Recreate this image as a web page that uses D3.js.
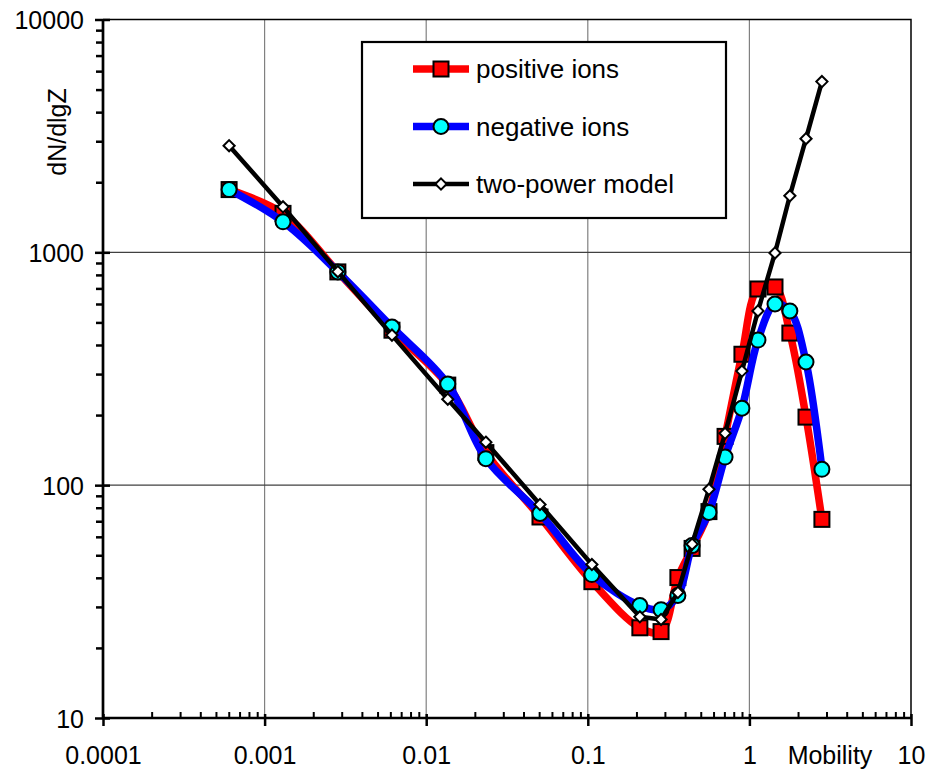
<!DOCTYPE html>
<html>
<head>
<meta charset="utf-8">
<script src="https://cdn.jsdelivr.net/npm/d3@7/dist/d3.min.js"></script>
<style>
  body { margin: 0; background: #fff; }
  svg text { font-family: "Liberation Sans", Arial, sans-serif; fill: #000; }
</style>
</head>
<body>
<div id="chart"></div>
<script>
// values (log-log)
var mobility = [0.000603, 0.00130, 0.00284, 0.00614, 0.0136, 0.0234, 0.0506, 0.106,
                0.210, 0.284, 0.361, 0.442, 0.562, 0.707, 0.899, 1.13, 1.44, 1.78, 2.24, 2.81];
var positiveIons = [1860, 1470, 824, 463, 269, 138, 73, 38.5, 24.4, 23.5,
                    40.1, 53.5, 77, 162, 365, 696, 710, 450, 196, 71.3];
var negativeIons = [1860, 1352, 824, 478, 272, 130, 75.6, 41.3, 30.4, 29.2,
                    33.6, 55, 76.4, 132, 214, 420, 600, 560, 338, 117];
var twoPowerModel = [2870, 1568, 826, 441, 234, 153, 82.6, 45.6, 27.2, 26.5,
                     34.6, 55.8, 96, 167, 309, 560, 994, 1749, 3077, 5412];

var xTicks = [0.0001, 0.001, 0.01, 0.1, 1, 10];
var xTickLabels = ["0.0001", "0.001", "0.01", "0.1", "1", "10"];
var yTicks = [10, 100, 1000, 10000];
var yTickLabels = ["10", "100", "1000", "10000"];
var seriesNames = ["positive ions", "negative ions", "two-power model"];

var width = 932, height = 773;

var svg = d3.select("#chart").append("svg")
  .attr("width", width)
  .attr("height", height);

var x = d3.scaleLog().domain([0.0001, 10]).range([103, 911]);
var y = d3.scaleLog().domain([10, 10000]).range([718, 19.5]);

// minor ticks 2..9 inside each decade
var minorX = [], minorY = [];
xTicks.slice(0, -1).forEach(function(d) {
  for (var k = 2; k <= 9; k++) minorX.push(d * k);
});
yTicks.slice(0, -1).forEach(function(d) {
  for (var k = 2; k <= 9; k++) minorY.push(d * k);
});

// grid
svg.append("g").selectAll("line")
  .data(xTicks.slice(1, -1))
  .enter().append("line")
    .attr("x1", function(d) { return x(d); })
    .attr("x2", function(d) { return x(d); })
    .attr("y1", y(10000))
    .attr("y2", y(10))
    .attr("stroke", "#808080")
    .attr("stroke-width", 1.2);

svg.append("g").selectAll("line")
  .data(yTicks.slice(1, -1))
  .enter().append("line")
    .attr("x1", x(0.0001))
    .attr("x2", x(10))
    .attr("y1", function(d) { return y(d); })
    .attr("y2", function(d) { return y(d); })
    .attr("stroke", "#404040")
    .attr("stroke-width", 1.2);

// plot frame (top + right)
svg.append("path")
  .attr("d", "M" + x(0.0001) + "," + y(10000) + "H" + x(10) + "V" + y(10))
  .attr("fill", "none")
  .attr("stroke", "#000")
  .attr("stroke-width", 1.5);

// x axis
var xMinorAxis = svg.append("g")
  .attr("transform", "translate(0," + y(10) + ")")
  .call(d3.axisTop(x).tickValues(minorX).tickSize(6).tickFormat(""));
xMinorAxis.select(".domain").remove();
xMinorAxis.selectAll("line").attr("stroke-width", 2);

var xAxis = svg.append("g")
  .attr("transform", "translate(0," + y(10) + ")")
  .call(d3.axisBottom(x).tickValues(xTicks).tickSizeOuter(0)
    .tickFormat(function(d, i) { return xTickLabels[i]; }));
xAxis.select(".domain").remove();
xAxis.selectAll("line").attr("y1", -4).attr("y2", 8).attr("stroke-width", 2.5);
xAxis.selectAll("text")
  .attr("y", 46).attr("dy", 0)
  .style("font-size", "25px");

svg.append("text")
  .attr("x", 830)
  .attr("y", 764)
  .attr("text-anchor", "middle")
  .style("font-size", "25px")
  .text("Mobility");

// y axis
var yMinorAxis = svg.append("g")
  .attr("transform", "translate(" + x(0.0001) + ",0)")
  .call(d3.axisLeft(y).tickValues(minorY).tickSize(7).tickFormat(""));
yMinorAxis.select(".domain").remove();
yMinorAxis.selectAll("line").attr("stroke-width", 2.5);

var yAxis = svg.append("g")
  .attr("transform", "translate(" + x(0.0001) + ",0)")
  .call(d3.axisLeft(y).tickValues(yTicks).tickSizeOuter(0)
    .tickFormat(function(d, i) { return yTickLabels[i]; }));
yAxis.select(".domain").remove();
yAxis.selectAll("line").attr("x1", 7).attr("x2", -8).attr("stroke-width", 2.5);
yAxis.selectAll("text")
  .attr("x", -19)
  .attr("dy", "0.36em")
  .style("font-size", "25px");

// axis lines
svg.append("path")
  .attr("d", "M" + x(0.0001) + "," + y(10000) + "V" + y(10) + "H" + x(10))
  .attr("fill", "none")
  .attr("stroke", "#000")
  .attr("stroke-width", 2.7);

svg.append("text")
  .attr("transform", "translate(66,132) rotate(-90)")
  .attr("text-anchor", "middle")
  .style("font-size", "25px")
  .text("dN/dlgZ");

// series
var smooth = d3.line()
  .x(function(d) { return x(d[0]); })
  .y(function(d) { return y(d[1]); })
  .curve(d3.curveCatmullRom.alpha(0.5));
var straight = d3.line()
  .x(function(d) { return x(d[0]); })
  .y(function(d) { return y(d[1]); });

var series = [
  { name: seriesNames[0], values: positiveIons, line: "#ff0000", width: 7.5, marker: "square", fill: "#ff0000", gen: smooth },
  { name: seriesNames[1], values: negativeIons, line: "#0000ff", width: 7.5, marker: "circle", fill: "#00ffff", gen: smooth },
  { name: seriesNames[2], values: twoPowerModel, line: "#000000", width: 4.5, marker: "diamond", fill: "#ffffff", gen: straight }
];

function addMarker(g, kind, fill) {
  if (kind === "square") {
    g.append("rect")
      .attr("x", -7.5).attr("y", -7.5)
      .attr("width", 15).attr("height", 15)
      .attr("fill", fill).attr("stroke", "#000").attr("stroke-width", 2);
  } else if (kind === "circle") {
    g.append("circle")
      .attr("r", 7.5)
      .attr("fill", fill).attr("stroke", "#000").attr("stroke-width", 2);
  } else {
    g.append("path")
      .attr("d", "M0,-5.6L5.6,0L0,5.6L-5.6,0Z")
      .attr("fill", fill).attr("stroke", "#000").attr("stroke-width", 2);
  }
}

series.forEach(function(s) {
  var pts = mobility.map(function(m, i) { return [m, s.values[i]]; });
  svg.append("path")
    .datum(pts)
    .attr("d", s.gen)
    .attr("fill", "none")
    .attr("stroke", s.line)
    .attr("stroke-width", s.width)
    .attr("stroke-linejoin", "round");
  svg.append("g").selectAll("g")
    .data(pts)
    .enter().append("g")
      .attr("transform", function(d) { return "translate(" + x(d[0]) + "," + y(d[1]) + ")"; })
      .each(function() { addMarker(d3.select(this), s.marker, s.fill); });
});

// legend
var legend = svg.append("g");
legend.append("rect")
  .attr("x", 362).attr("y", 42)
  .attr("width", 364).attr("height", 176)
  .attr("fill", "#fff")
  .attr("stroke", "#000")
  .attr("stroke-width", 2.2);

series.forEach(function(s, i) {
  var ly = 69 + i * 57.5;
  var row = legend.append("g").attr("transform", "translate(0," + ly + ")");
  row.append("line")
    .attr("x1", 413).attr("x2", 469)
    .attr("stroke", s.line)
    .attr("stroke-width", s.width);
  addMarker(row.append("g").attr("transform", "translate(441,0)"), s.marker, s.fill);
  row.append("text")
    .attr("x", 476)
    .attr("dy", "0.36em")
    .style("font-size", "26px")
    .text(s.name);
});
</script>
</body>
</html>
